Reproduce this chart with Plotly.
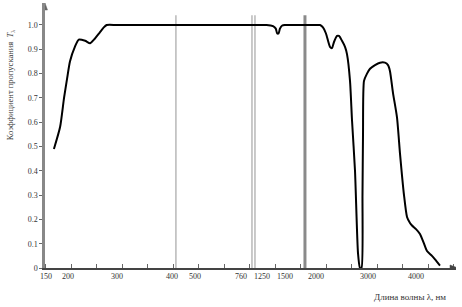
import numpy as np
import plotly.graph_objects as go

# ---- data: wavelength (nm) and transmission coefficient ----
wavelength = [168, 182, 191, 198, 204, 214, 222, 235, 245, 253, 265, 273, 279,
              300, 400, 500, 760, 1250, 1300, 1370, 1400, 1415, 1430, 1445, 1470,
              1500, 2000, 2077, 2134, 2192, 2269, 2308, 2346, 2404, 2442, 2500,
              2558, 2596, 2654, 2692, 2750, 2808, 2846, 2875, 2894, 2904, 2923,
              2981, 3042, 3146, 3250, 3354, 3417, 3458, 3521, 3604, 3667, 3750,
              3813, 3875, 3917, 4000, 4083, 4167, 4229, 4333, 4417, 4500]
transmission = [0.49, 0.58, 0.70, 0.78, 0.85, 0.91, 0.94, 0.935, 0.925, 0.94, 0.97, 0.99, 1.0,
                1.0, 1.0, 1.0, 1.0, 1.0, 1.0, 0.995, 0.985, 0.965, 0.965, 0.985, 0.998,
                1.0, 1.0, 1.0, 0.99, 0.965, 0.91, 0.905, 0.93, 0.955, 0.955, 0.935,
                0.91, 0.88, 0.77, 0.61, 0.40, 0.06, 0.0, 0.0, 0.30, 0.55, 0.77,
                0.80, 0.82, 0.835, 0.845, 0.845, 0.835, 0.81, 0.72, 0.62, 0.47, 0.30,
                0.21, 0.185, 0.175, 0.16, 0.14, 0.10, 0.07, 0.05, 0.03, 0.01]

# broken (piecewise) wavelength axis
tick_wl = [150, 200, 300, 400, 500, 760, 1250, 1500, 2000, 3000, 4000]
tick_text = ["150", "200", "300", "400", "500", "760", "1250", "1500", "2000", "3000", "4000"]
break_wl = [417, 1016, 1086, 1822]
y_ticks = [0, 0.1, 0.2, 0.3, 0.4, 0.5, 0.6, 0.7, 0.8, 0.9, 1.0]
y_text = ["0", "0.1", "0.2", "0.3", "0.4", "0.5", "0.6", "0.7", "0.8", "0.9", "1.0"]

# axis scale nodes (position of each labelled wavelength on the broken axis)
scale_wl = tick_wl + [5000]
scale_pos = [46, 68, 117, 172, 195, 241, 262, 285, 316, 368, 416, 464]

X_MIN, X_MAX = 45, 456
Y_MAX = 1.0905


def to_axis(w):
    return np.interp(np.asarray(w, dtype=float), scale_wl, scale_pos)


fig = go.Figure()
fig.add_trace(go.Scatter(
    x=to_axis(wavelength), y=transmission, mode="lines",
    line=dict(color="black", width=2, shape="spline", smoothing=0.6),
    hoverinfo="skip", showlegend=False))

for i, bw in enumerate(break_wl):
    fig.add_shape(type="line", xref="x", yref="y",
                  x0=float(to_axis(bw)), x1=float(to_axis(bw)), y0=0, y1=1.04,
                  line=dict(color="#8a8a8a" if i == 3 else "#b8b8b8",
                            width=3 if i == 3 else 1.5),
                  layer="below")

# axis arrowheads
fig.add_shape(type="path", xref="x", yref="y", xsizemode="pixel", ysizemode="pixel",
              xanchor=X_MAX, yanchor=0, path="M2,0 L-6,3 L-6,-3 Z",
              fillcolor="#444", line=dict(color="#444", width=0.5))
fig.add_shape(type="path", xref="x", yref="y", xsizemode="pixel", ysizemode="pixel",
              xanchor=X_MIN, yanchor=Y_MAX, path="M0,0 L-2.5,-7 L2.5,-7 Z",
              fillcolor="#666", line=dict(color="#666", width=0.5))

font_serif = "Liberation Serif, DejaVu Serif, serif"

fig.update_layout(
    width=462, height=307,
    margin=dict(l=45, r=6, t=3, b=39),
    paper_bgcolor="white", plot_bgcolor="white",
    font=dict(family=font_serif, size=8, color="#333"),
    xaxis=dict(range=[X_MIN, X_MAX], showgrid=False, zeroline=False,
               showline=True, linecolor="#444", linewidth=1.5,
               tickvals=list(to_axis(tick_wl)), ticktext=tick_text,
               ticks="", tickfont=dict(family=font_serif, size=8, color="#333"),
               minor=dict(dtick=25.5, tick0=45.5, ticks="inside", ticklen=4,
                          tickcolor="#666", tickwidth=1),
               fixedrange=True),
    yaxis=dict(range=[0, Y_MAX], showgrid=False, zeroline=False,
               showline=True, linecolor="#888", linewidth=2.5,
               tickvals=y_ticks, ticktext=y_text, ticks="outside", ticklen=3,
               tickcolor="#666", tickfont=dict(family=font_serif, size=8, color="#333"),
               fixedrange=True),
)

# y-axis title (rotated) and x-axis title
fig.add_annotation(xref="paper", yref="paper", x=-0.085, y=0.69, yanchor="middle",
                   xanchor="center",
                   text="Коэффициент пропускания  <i>T</i><sub>λ</sub>",
                   textangle=-90, showarrow=False,
                   font=dict(family=font_serif, size=8.5, color="#333"))
fig.add_annotation(xref="paper", yref="paper", x=0.888, y=-0.109, xanchor="center",
                   yanchor="middle", text="Длина волны λ, нм", showarrow=False,
                   font=dict(family=font_serif, size=9, color="#333"))

fig.write_html("out.html", config={"displayModeBar": False},
               post_script="document.body.style.margin='0px';")
